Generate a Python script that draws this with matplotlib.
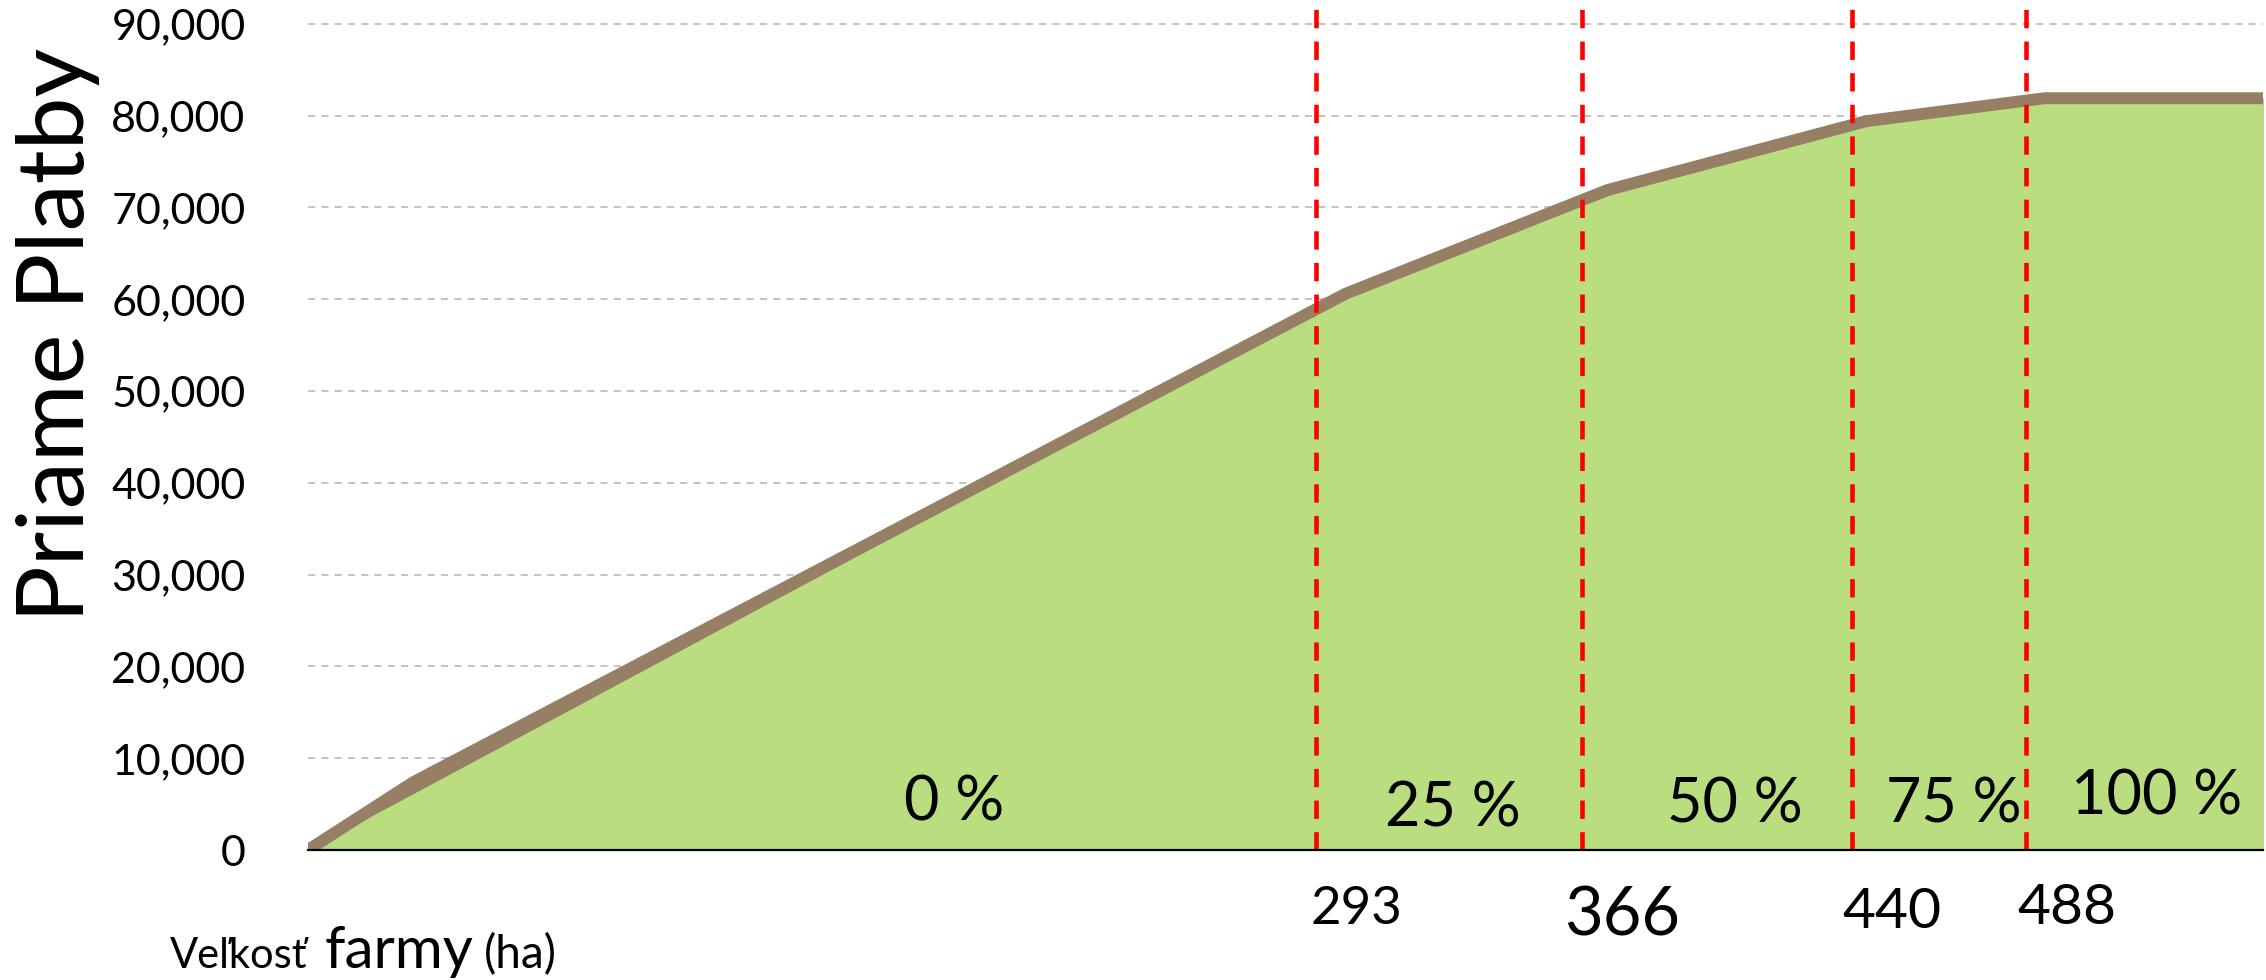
import matplotlib
matplotlib.use('Agg')
import matplotlib.pyplot as plt
from matplotlib.ticker import FuncFormatter

plt.rcParams['font.family'] = ['Lato', 'DejaVu Sans']

# data
farm_ha = [16, 45, 301, 373, 444, 493, 553]
payments = [0, 7400, 60600, 71900, 79400, 81900, 81900]
thresholds = [293, 366, 440, 488]
threshold_labels = ['293', '366', '440', '488']
reduction_labels = ['0 %', '25 %', '50 %', '75 %', '100 %']
y_ticks = [0, 10000, 20000, 30000, 40000, 50000, 60000, 70000, 80000, 90000]

# layout of the annotations (ha, value)
reduction_pos = [(193.6, 5100), (330.6, 4500), (408.0, 4900), (468.0, 4950), (523.8, 5800)]
thr_label_size = [38, 48, 41, 41]
thr_label_y = [71, 64, 67.5, 72]  # pixels from figure bottom

W, H = 2266, 980
fig = plt.figure(figsize=(W / 100, H / 100), dpi=100)
ax = fig.add_axes([308 / W, 130 / H, (2263 - 308) / W, 850 / H])

GREEN = '#b9dd7f'
BROWN = '#967f65'

# brown under the line, green area runs straight from the origin on top of it
ax.fill_between(farm_ha, payments, 0, color=BROWN, lw=0, zorder=1)
fill_x = farm_ha[:1] + farm_ha[2:]
fill_y = payments[:1] + payments[2:]
ax.fill_between(fill_x, fill_y, 0, color=GREEN, lw=0, zorder=2)
ax.plot(farm_ha, payments, color=BROWN, lw=8.6, solid_joinstyle='miter',
        solid_capstyle='butt', zorder=3)

ax.set_xlim(16, 553)
ax.set_ylim(0, 92600)

ax.set_yticks(y_ticks)
ax.yaxis.set_major_formatter(FuncFormatter(lambda v, p: f'{int(v):,}'))
ax.tick_params(axis='y', length=0, pad=45, labelsize=31)
ax.set_xticks([])
for yv in y_ticks[1:]:
    ax.axhline(yv, color='#b3b3b3', lw=1.1, dashes=(4.7, 4), zorder=0)

for s in ['top', 'right', 'left']:
    ax.spines[s].set_visible(False)
ax.spines['bottom'].set_linewidth(1.6)
ax.spines['bottom'].set_color('black')
ax.spines['bottom'].set_zorder(5)

for t in thresholds:
    ax.axvline(t, color='#ff0000', lw=3.3, dashes=(4, 2.9), zorder=4)

for lab, (px, py) in zip(reduction_labels, reduction_pos):
    ax.text(px, py, lab, fontsize=44, ha='center', va='center', zorder=6)

for t, lab, sz, yp in zip(thresholds, threshold_labels, thr_label_size, thr_label_y):
    ax.annotate(lab, xy=(t + 11, yp), xycoords=('data', 'figure pixels'),
                fontsize=sz, ha='center', va='center', annotation_clip=False)

fig.text(58 / W, 645 / H, 'Priame Platby', rotation=90, fontsize=68,
         ha='center', va='center')

# x axis title with mixed font sizes
fig.text(170 / W, 12 / H, 'Veľkosť', fontsize=30, ha='left', va='baseline')
fig.text(325 / W, 12 / H, 'farmy', fontsize=42, ha='left', va='baseline')
fig.text(484 / W, 12 / H, '(ha)', fontsize=33, ha='left', va='baseline')

fig.savefig('out.png', dpi=100, facecolor='white')
